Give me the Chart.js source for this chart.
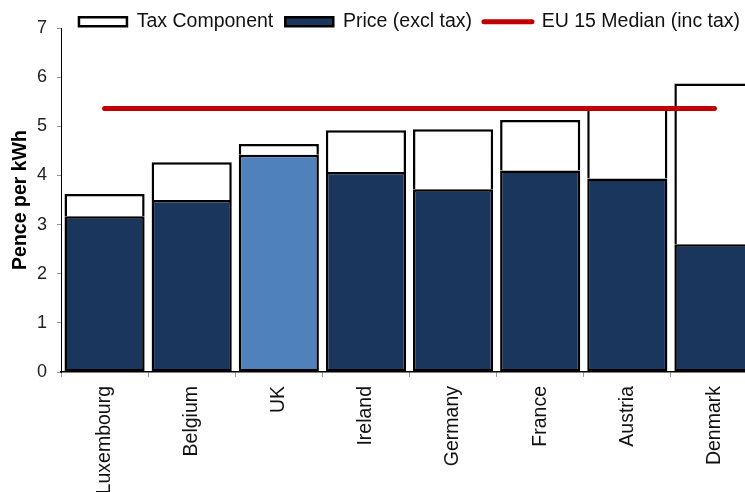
<!DOCTYPE html>
<html>
<head>
<meta charset="utf-8">
<script src="https://cdn.jsdelivr.net/npm/chart.js@4"></script>
<style>
  html, body { margin: 0; padding: 0; background: #fff; overflow: hidden; }
  #wrap { width: 745px; height: 492px; overflow: hidden; }
</style>
</head>
<body>
<div id="wrap"><canvas id="chart" width="758" height="492"></canvas></div>
<script>
const countries = ['Luxembourg', 'Belgium', 'UK', 'Ireland', 'Germany', 'France', 'Austria', 'Denmark'];
const priceExclTax = [3.17, 3.50, 4.42, 4.07, 3.72, 4.10, 3.94, 2.60];
const taxComponent = [0.45, 0.77, 0.22, 0.85, 1.22, 1.03, 1.43, 3.27];
const eu15Median = [5.36, 5.36, 5.36, 5.36, 5.36, 5.36, 5.36, 5.36];
const yTicks = [0, 1, 2, 3, 4, 5, 6, 7];

const NAVY = '#1b365d';
const UK_BLUE = '#4f81bd';
const RED = '#c00000';
const FONT = "'Liberation Sans', Arial, sans-serif";

// legend takes a short strip above the plot, but its drawing box is left taller
// so the text is not clipped
const legendStrip = {
  id: 'legendStrip',
  beforeInit(chart) {
    const fit = chart.legend.fit;
    chart.legend.fit = function () {
      fit.call(this);
      this.height = 28;
    };
  },
  afterLayout(chart) {
    chart.legend.bottom = chart.legend.top + 48;
    chart.legend.height = 48;
  }
};

const legendRank = [1, 0, 2]; // tax, price, median

new Chart(document.getElementById('chart'), {
  type: 'bar',
  data: {
    labels: countries,
    datasets: [
      {
        label: 'Price (excl tax)',
        data: priceExclTax,
        backgroundColor: countries.map(c => c === 'UK' ? UK_BLUE : NAVY),
        borderColor: '#000',
        borderWidth: 2.5,
        borderSkipped: false,
        barPercentage: 0.92,
        categoryPercentage: 1
      },
      {
        label: 'Tax Component',
        data: taxComponent,
        backgroundColor: '#fff',
        borderColor: '#000',
        borderWidth: 2.5,
        barPercentage: 0.92,
        categoryPercentage: 1
      },
      {
        type: 'line',
        label: 'EU 15 Median (inc tax)',
        data: eu15Median,
        borderColor: RED,
        backgroundColor: RED,
        borderWidth: 5,
        borderCapStyle: 'round',
        pointRadius: 0,
        stack: 'median',
        order: -1
      }
    ]
  },
  options: {
    responsive: false,
    animation: false,
    devicePixelRatio: 1,
    layout: { padding: 0 },
    plugins: {
      tooltip: { enabled: false },
      legend: {
        position: 'top',
        align: 'center',
        fullSize: false,
        labels: {
          usePointStyle: true,
          pointStyleWidth: 48,
          boxHeight: 9,
          padding: 12,
          color: '#111',
          font: { family: FONT, size: 19.5 },
          generateLabels(chart) {
            const items = Chart.defaults.plugins.legend.labels.generateLabels(chart);
            items.forEach(item => {
              if (item.datasetIndex === 2) {
                item.pointStyle = 'line';
                item.lineWidth = 5;
                item.strokeStyle = RED;
                item.lineCap = 'round';
              } else {
                item.pointStyle = 'rect';
                item.lineWidth = 2.5;
                item.strokeStyle = '#000';
              }
            });
            return items;
          },
          sort: (a, b) => legendRank[a.datasetIndex] - legendRank[b.datasetIndex]
        }
      }
    },
    scales: {
      x: {
        stacked: true,
        afterFit(scale) { scale.height = 120; },
        grid: { drawOnChartArea: false, tickLength: 5, color: '#999' },
        border: { color: '#000', width: 1.5 },
        ticks: {
          autoSkip: false,
          minRotation: 90,
          maxRotation: 90,
          padding: 9,
          color: '#111',
          font: { family: FONT, size: 19.5 }
        }
      },
      y: {
        stacked: true,
        min: 0,
        max: 7,
        afterFit(scale) { scale.width = 61; },
        afterBuildTicks(scale) { scale.ticks = yTicks.map(v => ({ value: v })); },
        grid: { drawOnChartArea: false, tickLength: 4, color: '#999' },
        border: { color: '#000', width: 1 },
        ticks: {
          padding: 10,
          color: '#222',
          font: { family: FONT, size: 18 }
        },
        title: {
          display: true,
          text: 'Pence per kWh',
          color: '#000',
          padding: { top: 9, bottom: 0 },
          font: { family: FONT, size: 19.5, weight: 'bold' }
        }
      }
    }
  },
  plugins: [legendStrip]
});
</script>
</body>
</html>
